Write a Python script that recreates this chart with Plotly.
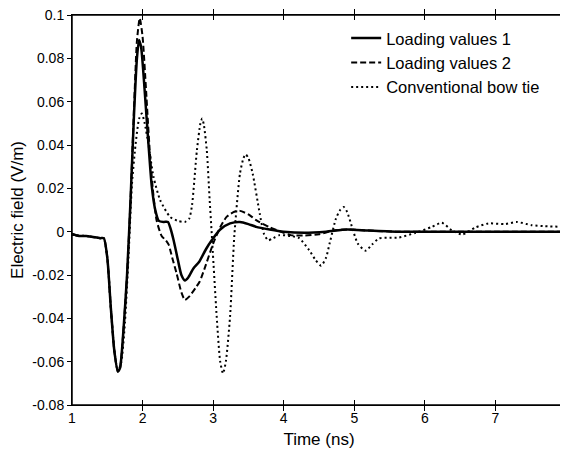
import plotly.graph_objects as go

# Loading values 1 (solid)
t1 = [1.0, 1.1, 1.2, 1.3, 1.4, 1.45, 1.5, 1.55, 1.6, 1.65, 1.68, 1.73, 1.78, 1.83, 1.88, 1.92, 1.95,
      1.98, 2.03, 2.08, 2.13, 2.18, 2.23, 2.3, 2.36, 2.4, 2.44, 2.5, 2.55, 2.6, 2.65, 2.72, 2.8, 2.9,
      2.98, 3.1, 3.24, 3.38, 3.5, 3.61, 3.8, 4.0, 4.3, 4.6, 4.9, 5.2, 5.6, 6.0, 7.0, 8.0]
v1 = [-0.001, -0.002, -0.002, -0.0025, -0.003, -0.003, -0.012, -0.035, -0.055, -0.0645, -0.063,
      -0.045, -0.02, 0.015, 0.055, 0.08, 0.0885, 0.085, 0.065, 0.042, 0.021, 0.01, 0.005, 0.0045,
      0.0045, 0.001, -0.004, -0.013, -0.02, -0.0225, -0.021, -0.017, -0.014, -0.008, -0.004, 0.001,
      0.0038, 0.0045, 0.0035, 0.0022, 0.001, 0.0, -0.0005, 0.0, 0.001, 0.0005, 0.0, 0.0, 0.0, 0.0]

# Loading values 2 (dashed)
t2 = [1.0, 1.1, 1.2, 1.3, 1.4, 1.45, 1.5, 1.55, 1.6, 1.65, 1.68, 1.73, 1.78, 1.83, 1.88, 1.92, 1.96,
      2.0, 2.05, 2.1, 2.15, 2.2, 2.27, 2.33, 2.37, 2.42, 2.48, 2.55, 2.6, 2.66, 2.75, 2.81, 2.9, 3.0,
      3.1, 3.19, 3.3, 3.38, 3.5, 3.61, 3.8, 4.0, 4.1, 4.3, 4.5, 4.7, 4.9, 5.2, 5.6, 6.0, 7.0, 8.0]
v2 = [-0.001, -0.002, -0.002, -0.0025, -0.003, -0.003, -0.012, -0.035, -0.055, -0.0645, -0.063,
      -0.045, -0.02, 0.015, 0.058, 0.088, 0.0985, 0.09, 0.065, 0.038, 0.018, 0.005, -0.002, -0.004,
      -0.006, -0.012, -0.019, -0.028, -0.0315, -0.03, -0.026, -0.023, -0.015, -0.0055, 0.002, 0.0068,
      0.0092, 0.0096, 0.008, 0.0053, 0.002, -0.0005, -0.0016, -0.0018, -0.0012, 0.0005, 0.001, 0.0005,
      0.0, 0.0, 0.0, 0.0]

# Conventional bow tie (dotted)
t3 = [1.0, 1.2, 1.4, 1.45, 1.5, 1.55, 1.6, 1.65, 1.7, 1.75, 1.8, 1.85, 1.9, 1.95, 1.99, 2.03, 2.08,
      2.155, 2.25, 2.39, 2.5, 2.6, 2.66, 2.7, 2.77, 2.82, 2.845, 2.87, 2.91, 2.95, 2.98, 3.05, 3.1,
      3.14, 3.18, 3.24, 3.3, 3.38, 3.43, 3.46, 3.5, 3.56, 3.66, 3.72, 3.78, 3.85, 3.94, 4.1, 4.22,
      4.36, 4.45, 4.53, 4.6, 4.65, 4.74, 4.8, 4.85, 4.9, 4.95, 5.05, 5.16, 5.25, 5.35, 5.5, 5.63,
      5.87, 6.1, 6.24, 6.38, 6.53, 6.72, 6.9, 7.14, 7.3, 7.51, 7.7, 8.0]
v3 = [-0.0015, -0.002, -0.003, -0.003, -0.012, -0.035, -0.055, -0.0645, -0.06, -0.042, -0.012,
      0.022, 0.04, 0.052, 0.0545, 0.05, 0.041, 0.0253, 0.0145, 0.0068, 0.005, 0.0045, 0.006, 0.012,
      0.0376, 0.05, 0.0522, 0.049, 0.0376, 0.015, -0.001, -0.039, -0.06, -0.0654, -0.06, -0.039,
      -0.002, 0.0268, 0.034, 0.0357, 0.034, 0.0268, 0.0084, -0.001, -0.004, -0.003, -0.0016, -0.002,
      -0.003, -0.0085, -0.013, -0.0157, -0.012, -0.0055, 0.006, 0.01, 0.0114, 0.009, 0.004, -0.0055,
      -0.0088, -0.006, -0.0031, -0.0028, -0.0027, -0.0005, 0.0022, 0.0041, 0.0007, -0.0013, 0.002,
      0.0038, 0.0035, 0.0045, 0.003, 0.0025, 0.0022]

x_ticks = [1, 2, 3, 4, 5, 6, 7, 8]
y_ticks = [-0.08, -0.06, -0.04, -0.02, 0, 0.02, 0.04, 0.06, 0.08, 0.1]
y_ticklabels = ["-0.08", "-0.06", "-0.04", "-0.02", "0", "0.02", "0.04", "0.06", "0.08", "0.1"]

font_family = "Liberation Sans, Arial, sans-serif"

fig = go.Figure()
fig.add_trace(go.Scatter(x=t1, y=v1, mode="lines", name="Loading values 1",
                         line=dict(color="black", width=2.5, dash="solid", shape="spline", smoothing=0.6)))
fig.add_trace(go.Scatter(x=t2, y=v2, mode="lines", name="Loading values 2",
                         line=dict(color="black", width=2, dash="6px,3px", shape="spline", smoothing=0.6)))
fig.add_trace(go.Scatter(x=t3, y=v3, mode="lines", name="Conventional bow tie",
                         line=dict(color="black", width=2, dash="2px,3px", shape="spline", smoothing=0.6)))
# invisible trace to drive the right-side mirrored ticks
fig.add_trace(go.Scatter(x=[1, 8], y=[-0.08, 0.1], mode="lines", yaxis="y2",
                         line=dict(width=0), showlegend=False, hoverinfo="skip"))

# The page body adds an 8px offset, so the figure is sized to end at the window edge.
fig.update_layout(
    width=560, height=445,
    margin=dict(l=64, r=2, t=7, b=48),
    paper_bgcolor="white", plot_bgcolor="white",
    font=dict(family=font_family, size=14, color="black"),
    showlegend=True,
    legend=dict(x=0.555, y=0.985, xanchor="left", yanchor="top",
                bgcolor="rgba(0,0,0,0)", borderwidth=0,
                font=dict(size=16.5, family=font_family), tracegroupgap=0),
    xaxis=dict(range=[1, 8], tickvals=x_ticks, ticks="inside", ticklen=5, tickcolor="black",
               showline=True, linecolor="black", linewidth=1, mirror="allticks",
               showgrid=False, zeroline=False, automargin=False, ticklabeloverflow="allow",
               title=dict(text="Time (ns)", font=dict(size=17), standoff=8),
               tickfont=dict(size=14)),
    yaxis=dict(range=[-0.08, 0.1], tickvals=y_ticks, ticktext=y_ticklabels,
               ticks="outside", ticklen=4, tickcolor="black",
               showline=True, linecolor="black", linewidth=1, mirror=False,
               showgrid=False, zeroline=False, automargin=False, ticklabeloverflow="allow",
               title=dict(text="Electric field (V/m)", font=dict(size=17), standoff=6),
               tickfont=dict(size=14)),
    yaxis2=dict(range=[-0.08, 0.1], tickvals=y_ticks, overlaying="y", side="right",
                ticks="inside", ticklen=5, tickcolor="black", showticklabels=False,
                showline=True, linecolor="black", linewidth=1,
                showgrid=False, zeroline=False, automargin=False),
    shapes=[dict(type="rect", xref="paper", yref="paper", x0=0, x1=1, y0=0, y1=1,
                 line=dict(color="black", width=1.5), fillcolor="rgba(0,0,0,0)", layer="above")],
)

fig.write_html("out.html")
